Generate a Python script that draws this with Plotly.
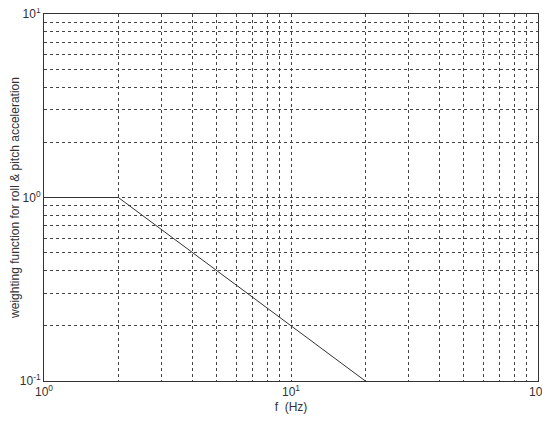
import plotly.graph_objects as go

# weighting curve: flat to 2 Hz, then falling as 1/f down to 20 Hz
freq_hz = [1, 2, 20]
weight = [1, 1, 0.1]

# grid lines at every 1..9 x decade, labels only on the decades
x_ticks = [m * 10 ** d for d in (0, 1) for m in range(1, 10)] + [100]
x_labels = ["10<sup>0</sup>"] + [""] * 8 + ["10<sup>1</sup>"] + [""] * 8 + ["10<sup>2</sup>"]
y_ticks = [m * 10 ** d for d in (-1, 0) for m in range(1, 10)] + [10]
y_labels = ["10<sup>-1</sup>"] + [""] * 8 + ["10<sup>0</sup>"] + [""] * 8 + ["10<sup>1</sup>"]

font = "Liberation Sans, Arial"
ink = "#333333"

fig = go.Figure()
fig.add_trace(go.Scatter(
    x=freq_hz, y=weight, mode="lines",
    line=dict(color=ink, width=1),
    showlegend=False,
))

axis_common = dict(
    type="log",
    showline=True, linecolor=ink, linewidth=1, mirror=True,
    showgrid=True, gridcolor="#444444", gridwidth=1, griddash="3px,3px",
    ticks="", zeroline=False, automargin=False, ticklabeloverflow="allow",
    tickfont=dict(family=font, size=12, color=ink),
)

fig.update_xaxes(
    range=[0, 2], tickvals=x_ticks, ticktext=x_labels,
    title=dict(text="f  (Hz)", standoff=8,
               font=dict(family=font, size=12, color=ink)),
    **axis_common,
)
fig.update_yaxes(
    range=[-1, 1], tickvals=y_ticks, ticktext=y_labels,
    title=dict(text="weighting function for roll &amp; pitch acceleration", standoff=5,
               font=dict(family=font, size=12, color=ink)),
    **axis_common,
)

# page body adds an 8px margin, so the figure is sized to fit inside it
fig.update_layout(
    width=542, height=406,
    margin=dict(l=36, r=12, t=6, b=33),
    plot_bgcolor="white", paper_bgcolor="white",
)
fig.write_html("out.html")
